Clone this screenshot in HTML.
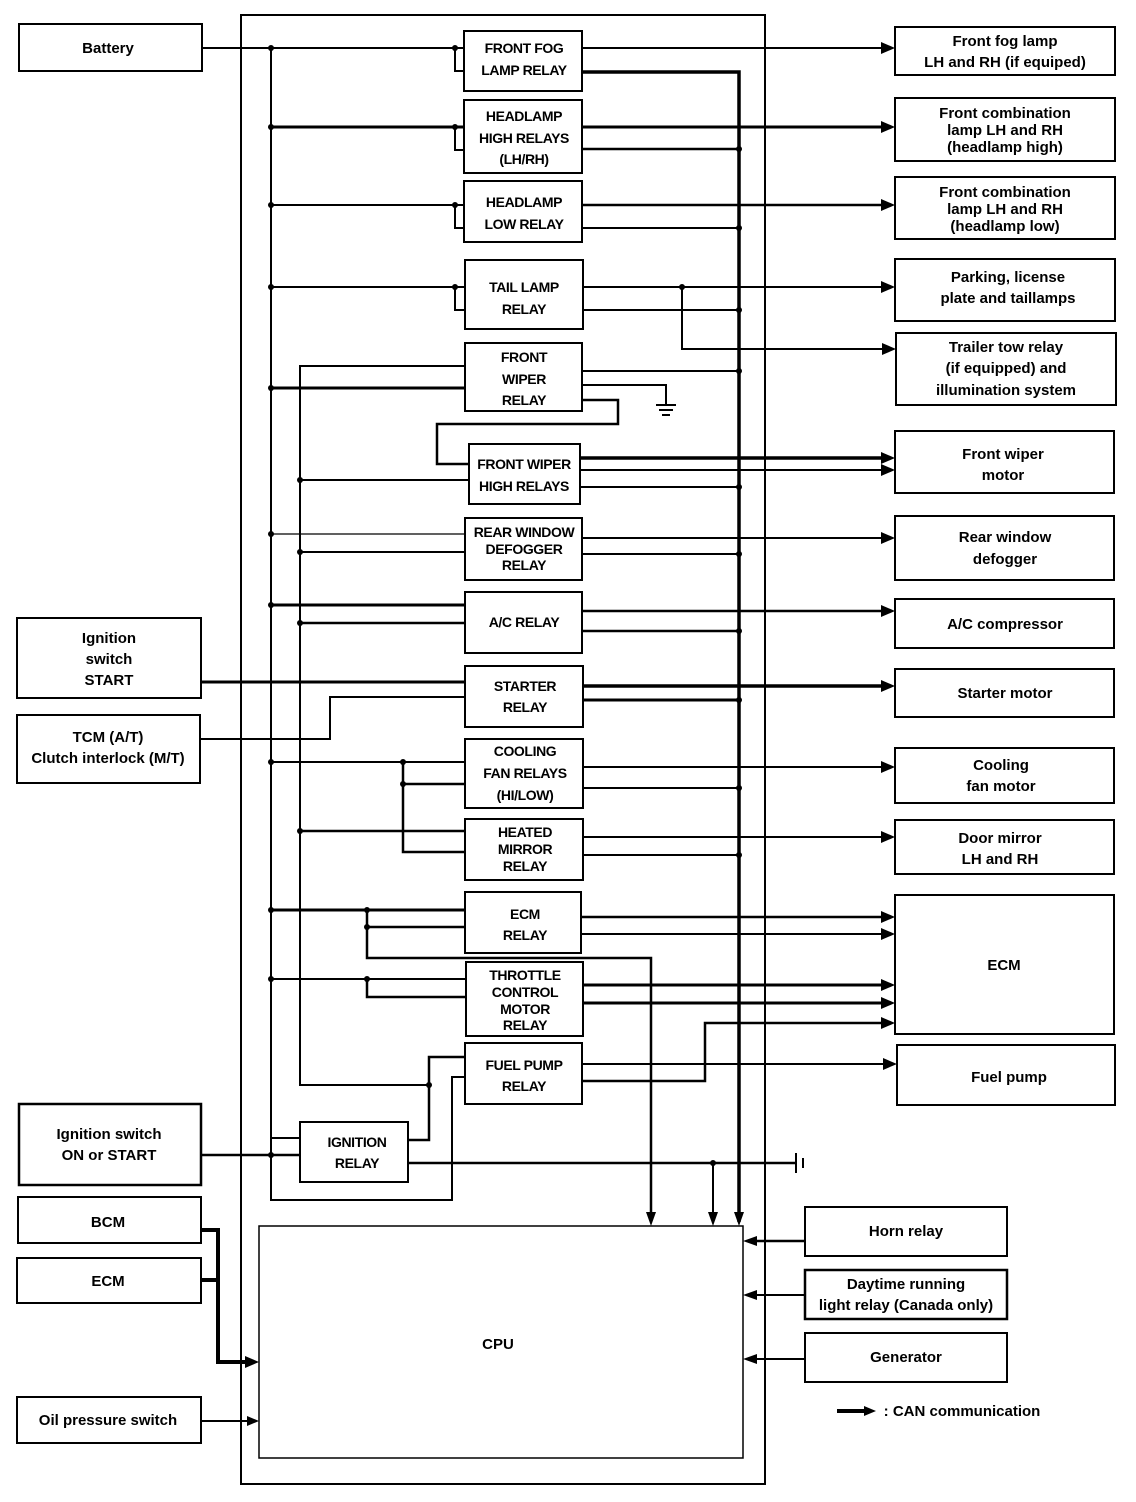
<!DOCTYPE html>
<html><head><meta charset="utf-8"><style>
html,body{margin:0;padding:0;background:#fff;}
svg{display:block;}
text{font-family:"Liberation Sans",Arial,sans-serif;font-weight:bold;font-size:15px;fill:#000;text-anchor:middle;}
.r text{font-size:14px;letter-spacing:-0.4px;}
</style></head><body>
<svg width="1136" height="1502" viewBox="0 0 1136 1502" xmlns="http://www.w3.org/2000/svg">
<g fill="none" stroke="#000" stroke-width="2">
<rect x="241" y="15" width="524" height="1469"/>
<rect x="19" y="24" width="183" height="47"/>
<rect x="17" y="618" width="184" height="80"/>
<rect x="17" y="715" width="183" height="68"/>
<rect x="19" y="1104" width="182" height="81" stroke-width="2.5"/>
<rect x="18" y="1197" width="183" height="46"/>
<rect x="17" y="1258" width="184" height="45"/>
<rect x="17" y="1397" width="184" height="46"/>
<rect x="895" y="27" width="220" height="48"/>
<rect x="895" y="98" width="220" height="63"/>
<rect x="895" y="177" width="220" height="62"/>
<rect x="895" y="259" width="220" height="62"/>
<rect x="896" y="333" width="220" height="72"/>
<rect x="895" y="431" width="219" height="62"/>
<rect x="895" y="516" width="219" height="64"/>
<rect x="895" y="599" width="219" height="49"/>
<rect x="895" y="669" width="219" height="48"/>
<rect x="895" y="748" width="219" height="55"/>
<rect x="895" y="820" width="219" height="54"/>
<rect x="895" y="895" width="219" height="139"/>
<rect x="897" y="1045" width="218" height="60"/>
<rect x="805" y="1207" width="202" height="49"/>
<rect x="805" y="1270" width="202" height="49" stroke-width="2.5"/>
<rect x="805" y="1333" width="202" height="49"/>
<rect x="464" y="31" width="118" height="60"/>
<rect x="464" y="100" width="118" height="73"/>
<rect x="464" y="181" width="118" height="61"/>
<rect x="465" y="260" width="118" height="69"/>
<rect x="465" y="343" width="117" height="68"/>
<rect x="469" y="444" width="111" height="60"/>
<rect x="465" y="518" width="117" height="62"/>
<rect x="465" y="592" width="117" height="61"/>
<rect x="465" y="666" width="118" height="61"/>
<rect x="465" y="739" width="118" height="69"/>
<rect x="465" y="819" width="118" height="61"/>
<rect x="465" y="892" width="116" height="61"/>
<rect x="466" y="962" width="117" height="74"/>
<rect x="465" y="1043" width="117" height="61"/>
<rect x="300" y="1122" width="108" height="60"/>
<rect x="259" y="1226" width="484" height="232" stroke-width="1.5"/>

<path d="M271 48 V1200 H452 V1077 H465"/>
<path d="M271 1138 H300"/>
<path d="M465 366 H300 V1085 H429"/>
<path d="M582 72 H739 V1222" stroke-width="3.5"/>
<path d="M202 48 H464"/>
<path d="M455 48 V71 H464"/>
<path d="M582 48 H885"/>
<path d="M271 127 H464" stroke-width="3"/>
<path d="M455 127 V150 H464"/>
<path d="M582 127 H885" stroke-width="3"/>
<path d="M582 149 H739" stroke-width="2.5"/>
<path d="M271 205 H464"/>
<path d="M455 205 V228 H464"/>
<path d="M582 205 H885" stroke-width="2.5"/>
<path d="M582 228 H739"/>
<path d="M271 287 H465"/>
<path d="M455 287 V310 H465"/>
<path d="M583 287 H885"/>
<path d="M682 287 V349 H885"/>
<path d="M583 310 H739"/>
<path d="M271 388 H465" stroke-width="3"/>
<path d="M582 371 H739"/>
<path d="M582 385 H666 V405"/>
<path d="M656 405 H676 M659 410 H673 M662 415 H670"/>
<path d="M582 400 H618 V424 H437 V464 H469" stroke-width="2.5"/>
<path d="M300 480 H469"/>
<path d="M580 458 H885" stroke-width="3.5"/>
<path d="M580 470 H885"/>
<path d="M580 487 H739"/>
<path d="M271 534 H465" stroke-width="1.2"/>
<path d="M300 552 H465"/>
<path d="M582 538 H885"/>
<path d="M582 554 H739"/>
<path d="M271 605 H465" stroke-width="3"/>
<path d="M300 623 H465" stroke-width="2.5"/>
<path d="M582 611 H885" stroke-width="2.5"/>
<path d="M582 631 H739" stroke-width="2.5"/>
<path d="M201 682 H465" stroke-width="3"/>
<path d="M200 739 H330 V697 H465"/>
<path d="M583 686 H885" stroke-width="3.5"/>
<path d="M583 700 H739" stroke-width="3"/>
<path d="M271 762 H465"/>
<path d="M403 762 V852 H465" stroke-width="2.5"/>
<path d="M403 784 H465" stroke-width="2.5"/>
<path d="M583 767 H885"/>
<path d="M583 788 H739"/>
<path d="M300 831 H465" stroke-width="2.5"/>
<path d="M583 837 H885"/>
<path d="M583 855 H739"/>
<path d="M271 910 H465" stroke-width="3"/>
<path d="M367 910 V958 H651 V1215" stroke-width="2.5"/>
<path d="M367 927 H465" stroke-width="2.5"/>
<path d="M581 917 H885" stroke-width="2.5"/>
<path d="M581 934 H885"/>
<path d="M271 979 H466"/>
<path d="M367 979 V997 H466" stroke-width="2.5"/>
<path d="M583 985 H885" stroke-width="3"/>
<path d="M583 1003 H885" stroke-width="3"/>
<path d="M465 1057 H429 V1140 H408" stroke-width="2.5"/>
<path d="M582 1064 H887"/>
<path d="M582 1081 H705 V1023 H885" stroke-width="2.5"/>
<path d="M201 1155 H300" stroke-width="2.5"/>
<path d="M408 1163 H796" stroke-width="2.5"/>
<path d="M796 1153 V1173 M803 1158 V1168" stroke-width="2"/>
<path d="M713 1163 V1215"/>
<path d="M201 1230 H218 V1362 H248" stroke-width="4"/>
<path d="M201 1280 H218" stroke-width="4"/>
<path d="M201 1421 H250" stroke-width="2"/>
<path d="M805 1241 H752" stroke-width="2.5"/>
<path d="M805 1295 H752"/>
<path d="M805 1359 H752"/>
<path d="M837 1411 H866" stroke-width="4"/>
</g>
<g fill="#000" stroke="none">
<polygon points="881,42 895,48 881,54"/>
<polygon points="881,121 895,127 881,133"/>
<polygon points="881,199 895,205 881,211"/>
<polygon points="881,281 895,287 881,293"/>
<polygon points="882,343 896,349 882,355"/>
<polygon points="881,452 895,458 881,464"/>
<polygon points="881,464 895,470 881,476"/>
<polygon points="881,532 895,538 881,544"/>
<polygon points="881,605 895,611 881,617"/>
<polygon points="881,680 895,686 881,692"/>
<polygon points="881,761 895,767 881,773"/>
<polygon points="881,831 895,837 881,843"/>
<polygon points="881,911 895,917 881,923"/>
<polygon points="881,928 895,934 881,940"/>
<polygon points="881,979 895,985 881,991"/>
<polygon points="881,997 895,1003 881,1009"/>
<polygon points="881,1017 895,1023 881,1029"/>
<polygon points="883,1058 897,1064 883,1070"/>
<polygon points="646,1212 656,1212 651,1226"/>
<polygon points="708,1212 718,1212 713,1226"/>
<polygon points="734,1212 744,1212 739,1226"/>
<polygon points="757,1236 757,1246 743,1241"/>
<polygon points="757,1290 757,1300 743,1295"/>
<polygon points="757,1354 757,1364 743,1359"/>
<polygon points="245,1356 245,1368 259,1362"/>
<polygon points="247,1416 247,1426 259,1421"/>
<polygon points="864,1406 864,1416 876,1411"/>
<circle cx="271" cy="48" r="3"/><circle cx="455" cy="48" r="3"/>
<circle cx="271" cy="127" r="3"/><circle cx="455" cy="127" r="3"/>
<circle cx="271" cy="205" r="3"/><circle cx="455" cy="205" r="3"/>
<circle cx="271" cy="287" r="3"/><circle cx="455" cy="287" r="3"/>
<circle cx="682" cy="287" r="3"/>
<circle cx="271" cy="388" r="3"/>
<circle cx="300" cy="480" r="3"/>
<circle cx="271" cy="534" r="3"/><circle cx="300" cy="552" r="3"/>
<circle cx="271" cy="605" r="3"/><circle cx="300" cy="623" r="3"/>
<circle cx="271" cy="762" r="3"/><circle cx="403" cy="762" r="3"/><circle cx="403" cy="784" r="3"/>
<circle cx="300" cy="831" r="3"/>
<circle cx="271" cy="910" r="3"/><circle cx="367" cy="910" r="3"/><circle cx="367" cy="927" r="3"/>
<circle cx="271" cy="979" r="3"/><circle cx="367" cy="979" r="3"/>
<circle cx="429" cy="1085" r="3"/>
<circle cx="271" cy="1155" r="3"/>
<circle cx="713" cy="1163" r="3"/>
<circle cx="739" cy="149" r="3"/><circle cx="739" cy="228" r="3"/><circle cx="739" cy="310" r="3"/>
<circle cx="739" cy="371" r="3"/><circle cx="739" cy="487" r="3"/><circle cx="739" cy="554" r="3"/>
<circle cx="739" cy="631" r="3"/><circle cx="739" cy="700" r="3"/><circle cx="739" cy="788" r="3"/>
<circle cx="739" cy="855" r="3"/>
</g>
<text x="108" y="53">Battery</text>
<text x="109" y="643">Ignition</text><text x="109" y="664">switch</text><text x="109" y="685">START</text>
<text x="108" y="742">TCM (A/T)</text><text x="108" y="763">Clutch interlock (M/T)</text>
<text x="109" y="1139">Ignition switch</text><text x="109" y="1160">ON or START</text>
<text x="108" y="1227">BCM</text>
<text x="108" y="1286">ECM</text>
<text x="108" y="1425">Oil pressure switch</text>
<g class="r">
<text x="524" y="53">FRONT FOG</text><text x="524" y="75">LAMP RELAY</text>
<text x="524" y="121">HEADLAMP</text><text x="524" y="143">HIGH RELAYS</text><text x="524" y="164">(LH/RH)</text>
<text x="524" y="207">HEADLAMP</text><text x="524" y="229">LOW RELAY</text>
<text x="524" y="292">TAIL LAMP</text><text x="524" y="314">RELAY</text>
<text x="524" y="362">FRONT</text><text x="524" y="384">WIPER</text><text x="524" y="405">RELAY</text>
<text x="524" y="469">FRONT WIPER</text><text x="524" y="491">HIGH RELAYS</text>
<text x="524" y="537">REAR WINDOW</text><text x="524" y="554">DEFOGGER</text><text x="524" y="570">RELAY</text>
<text x="524" y="627">A/C RELAY</text>
<text x="525" y="691">STARTER</text><text x="525" y="712">RELAY</text>
<text x="525" y="756">COOLING</text><text x="525" y="778">FAN RELAYS</text><text x="525" y="800">(HI/LOW)</text>
<text x="525" y="837">HEATED</text><text x="525" y="854">MIRROR</text><text x="525" y="871">RELAY</text>
<text x="525" y="919">ECM</text><text x="525" y="940">RELAY</text>
<text x="525" y="980">THROTTLE</text><text x="525" y="997">CONTROL</text><text x="525" y="1014">MOTOR</text><text x="525" y="1030">RELAY</text>
<text x="524" y="1070">FUEL PUMP</text><text x="524" y="1091">RELAY</text>
<text x="357" y="1147">IGNITION</text><text x="357" y="1168">RELAY</text>
</g>
<text x="498" y="1349">CPU</text>
<text x="1005" y="46">Front fog lamp</text><text x="1005" y="67">LH and RH (if equiped)</text>
<text x="1005" y="118">Front combination</text><text x="1005" y="135">lamp LH and RH</text><text x="1005" y="152">(headlamp high)</text>
<text x="1005" y="197">Front combination</text><text x="1005" y="214">lamp LH and RH</text><text x="1005" y="231">(headlamp low)</text>
<text x="1008" y="282">Parking, license</text><text x="1008" y="303">plate and taillamps</text>
<text x="1006" y="352">Trailer tow relay</text><text x="1006" y="373">(if equipped) and</text><text x="1006" y="395">illumination system</text>
<text x="1003" y="459">Front wiper</text><text x="1003" y="480">motor</text>
<text x="1005" y="542">Rear window</text><text x="1005" y="564">defogger</text>
<text x="1005" y="629">A/C compressor</text>
<text x="1005" y="698">Starter motor</text>
<text x="1001" y="770">Cooling</text><text x="1001" y="791">fan motor</text>
<text x="1000" y="843">Door mirror</text><text x="1000" y="864">LH and RH</text>
<text x="1004" y="970">ECM</text>
<text x="1009" y="1082">Fuel pump</text>
<text x="906" y="1236">Horn relay</text>
<text x="906" y="1289">Daytime running</text><text x="906" y="1310">light relay (Canada only)</text>
<text x="906" y="1362">Generator</text>
<text x="962" y="1416">: CAN communication</text>
</svg>
</body></html>
